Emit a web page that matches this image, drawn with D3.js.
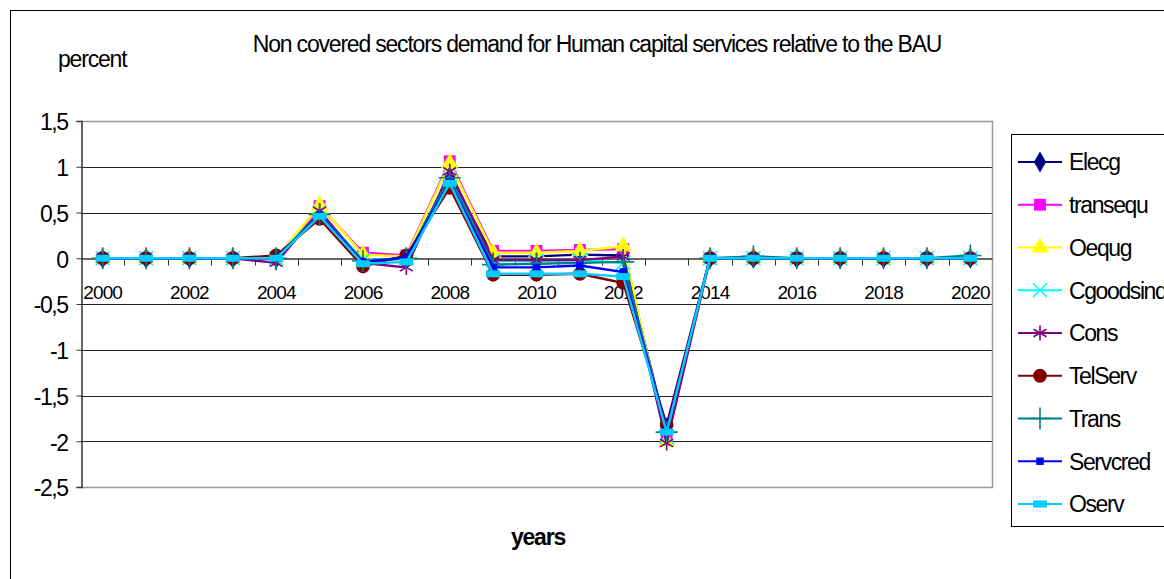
<!DOCTYPE html>
<html>
<head>
<meta charset="utf-8">
<script src="https://cdn.jsdelivr.net/npm/d3@7"></script>
<style>
  body { margin: 0; background: #fff; }
  text { font-family: "Liberation Sans", Arial, sans-serif; }
</style>
</head>
<body>
<svg width="1164" height="579"></svg>
<script>
// chart data
var years = [2000, 2001, 2002, 2003, 2004, 2005, 2006, 2007, 2008, 2009, 2010,
             2011, 2012, 2013, 2014, 2015, 2016, 2017, 2018, 2019, 2020];
var yTicks = [1.5, 1, 0.5, 0, -0.5, -1, -1.5, -2, -2.5];
var seriesNames = ["Elecg", "transequ", "Oequg", "Cgoodsind", "Cons", "TelServ", "Trans", "Servcred", "Oserv"];

var Elecg     = [0, 0, 0, 0, 0, 0.5, -0.03, 0, 0.9, 0.02, 0.02, 0.04, 0.03, -1.9, 0, 0, 0, 0, 0, 0, 0];
var transequ  = [0, 0, 0, 0, 0, 0.57, 0.06, 0.03, 1.06, 0.08, 0.08, 0.09, 0.1, -1.97, 0, 0, 0, 0, 0, 0, 0];
var Oequg     = [0, 0, 0, 0, 0, 0.58, 0.04, 0.02, 1.04, 0.06, 0.06, 0.08, 0.13, -2.0, 0, 0, 0, 0, 0, 0, 0];
var Cgoodsind = [0, 0, 0, 0, 0, 0.5, -0.02, 0, 0.88, -0.03, -0.03, -0.02, -0.05, -1.95, 0, 0, 0, 0, 0, 0, 0];
var Cons      = [0, 0, 0, 0, -0.05, 0.52, -0.05, -0.1, 0.95, -0.02, -0.02, -0.02, 0.02, -2.02, 0, 0, 0, 0, 0, 0, 0];
var TelServ   = [0, 0, 0, 0, 0.03, 0.43, -0.09, 0.03, 0.77, -0.18, -0.18, -0.17, -0.27, -1.82, 0, 0, 0, 0, 0, 0, 0];
var Trans     = [0, 0, 0, 0, 0, 0.48, -0.03, 0, 0.88, -0.07, -0.06, -0.05, -0.04, -1.9, 0, 0.02, 0, 0, 0, 0, 0.03];
var Servcred  = [0, 0, 0, 0, 0, 0.47, -0.04, 0.01, 0.83, -0.1, -0.1, -0.08, -0.15, -1.87, 0, 0, 0, 0, 0, 0, 0];
var Oserv     = [0, 0, 0, 0, 0, 0.46, -0.06, -0.04, 0.82, -0.17, -0.17, -0.17, -0.2, -1.9, 0, 0, 0, 0, 0, 0, 0];

var seriesValues = [Elecg, transequ, Oequg, Cgoodsind, Cons, TelServ, Trans, Servcred, Oserv];
var colors = ["#000080", "#ff00ff", "#ffff00", "#00ffff", "#800080", "#800000", "#008080", "#0000ff", "#00ccff"];

// wide flat rectangle marker for Oserv
var symbolWideRect = {
  draw: function(context, size) {
    var h = Math.sqrt(size) * 0.7, w = h * 2;
    context.rect(-w / 2, -h / 2, w, h);
  }
};
// marker type, size, filled?
var markers = [
  [d3.symbolDiamond, 130, true],
  [d3.symbolSquare, 140, true],
  [d3.symbolTriangle, 130, true],
  [d3.symbolTimes, 130, false],
  [d3.symbolAsterisk, 160, false],
  [d3.symbolCircle, 150, true],
  [d3.symbolPlus, 160, false],
  [d3.symbolSquare, 55, true],
  [symbolWideRect, 100, true]
];

var svg = d3.select("svg"),
    plot = {left: 81, right: 992, top: 121, bottom: 487};

// outer chart border
svg.append("rect")
  .attr("x", 10.5).attr("y", 10.5)
  .attr("width", 1170).attr("height", 580)
  .attr("fill", "none").attr("stroke", "#000").attr("stroke-width", 1);

var x = d3.scaleBand().domain(years).range([plot.left, plot.right]).padding(0),
    y = d3.scaleLinear().domain([-2.5, 1.5]).range([plot.bottom, plot.top]);
var cx = function(i) { return x(years[i]) + x.bandwidth() / 2; };

var commaFmt = d3.formatLocale({decimal: ",", thousands: ".", grouping: [3], currency: ["", ""], minus: "-"}).format("");

// gridlines
svg.append("g").selectAll("line")
  .data(yTicks.filter(function(d) { return d > -2.5 && d < 1.5 && d !== 0; }))
  .enter().append("line")
  .attr("x1", plot.left).attr("x2", plot.right)
  .attr("y1", function(d) { return Math.round(y(d)) + 0.5; })
  .attr("y2", function(d) { return Math.round(y(d)) + 0.5; })
  .attr("stroke", "#222").attr("stroke-width", 1);

// plot frame (top, right, bottom gray)
svg.append("path")
  .attr("d", "M" + plot.left + "," + (plot.top + 0.5) + "H" + (plot.right + 0.5) +
             "V" + (plot.bottom + 0.5) + "H" + plot.left)
  .attr("fill", "none").attr("stroke", "#999").attr("stroke-width", 1.5);

// y axis
var yAxis = svg.append("g")
  .attr("transform", "translate(" + (plot.left + 0.5) + ",0)")
  .call(d3.axisLeft(y).tickValues(yTicks).tickSize(5).tickPadding(9).tickFormat(commaFmt));
yAxis.select(".domain").attr("stroke", "#333").attr("stroke-width", 1.5);
yAxis.selectAll(".tick line").attr("stroke", "#333");
yAxis.selectAll("text")
  .attr("font-family", "Liberation Sans, Arial, sans-serif")
  .attr("font-size", 23).attr("fill", "#000").attr("letter-spacing", "-1.5px")
  .attr("dy", "0.38em");

// x axis at zero
var xAxisY = Math.round(y(0)) + 0.5;
var xAxis = svg.append("g")
  .attr("transform", "translate(0," + xAxisY + ")")
  .call(d3.axisBottom(x).tickSize(0).tickPadding(27)
    .tickFormat(function(d) { return d % 2 === 0 ? d : ""; }));
xAxis.select(".domain").attr("stroke", "#333").attr("stroke-width", 1.5);
xAxis.selectAll("text")
  .attr("font-family", "Liberation Sans, Arial, sans-serif")
  .attr("font-size", 19).attr("fill", "#000").attr("letter-spacing", "-0.9px");
// category boundary ticks
xAxis.append("g").selectAll("line")
  .data(years.slice(1))
  .enter().append("line")
  .attr("x1", function(d) { return Math.round(x(d)) + 0.5; })
  .attr("x2", function(d) { return Math.round(x(d)) + 0.5; })
  .attr("y1", 0).attr("y2", 7)
  .attr("stroke", "#333");

// lines
var line = d3.line()
  .x(function(d, i) { return cx(i); })
  .y(function(d) { return y(d); });

var seriesG = svg.append("g").selectAll("g")
  .data(seriesValues)
  .enter().append("g");

seriesG.append("path")
  .attr("d", line)
  .attr("fill", "none")
  .attr("stroke", function(d, k) { return colors[k]; })
  .attr("stroke-width", 2.4);

seriesG.each(function(vals, k) {
  var m = markers[k];
  d3.select(this).selectAll(".pt")
    .data(vals)
    .enter().append("path")
    .attr("class", "pt")
    .attr("transform", function(d, i) { return "translate(" + cx(i) + "," + y(d) + ")"; })
    .attr("d", d3.symbol().type(m[0]).size(m[1]))
    .attr("fill", m[2] ? colors[k] : "none")
    .attr("stroke", colors[k])
    .attr("stroke-width", m[2] ? 0 : 1.6);
});

// title and axis labels
svg.append("text")
  .attr("x", 597).attr("y", 52)
  .attr("text-anchor", "middle")
  .attr("font-size", 23).attr("letter-spacing", "-1.2px")
  .text("Non covered sectors demand for Human capital services relative to the BAU");

svg.append("text")
  .attr("x", 58).attr("y", 67)
  .attr("font-size", 23).attr("letter-spacing", "-1.2px")
  .text("percent");

svg.append("text")
  .attr("x", 538).attr("y", 545)
  .attr("text-anchor", "middle")
  .attr("font-size", 23).attr("font-weight", "bold").attr("letter-spacing", "-1.2px")
  .text("years");

// legend
var legend = svg.append("g");
legend.append("rect")
  .attr("x", 1011.5).attr("y", 134.5)
  .attr("width", 170).attr("height", 392)
  .attr("fill", "#fff").attr("stroke", "#000");

var ly = d3.scalePoint().domain(seriesNames).range([162, 504]);
var li = legend.selectAll(".li")
  .data(seriesNames)
  .enter().append("g")
  .attr("class", "li")
  .attr("transform", function(d) { return "translate(0," + ly(d) + ")"; });

li.append("line")
  .attr("x1", 1018).attr("x2", 1062)
  .attr("stroke", function(d, k) { return colors[k]; })
  .attr("stroke-width", 2);
li.append("path")
  .attr("transform", "translate(1040,0)")
  .attr("d", function(d, k) { return d3.symbol().type(markers[k][0]).size(markers[k][1])(); })
  .attr("fill", function(d, k) { return markers[k][2] ? colors[k] : "none"; })
  .attr("stroke", function(d, k) { return colors[k]; })
  .attr("stroke-width", function(d, k) { return markers[k][2] ? 0 : 1.6; });
li.append("text")
  .attr("x", 1069).attr("dy", "0.36em")
  .attr("font-size", 23).attr("letter-spacing", "-1.4px")
  .text(function(d) { return d; });
</script>
</body>
</html>
